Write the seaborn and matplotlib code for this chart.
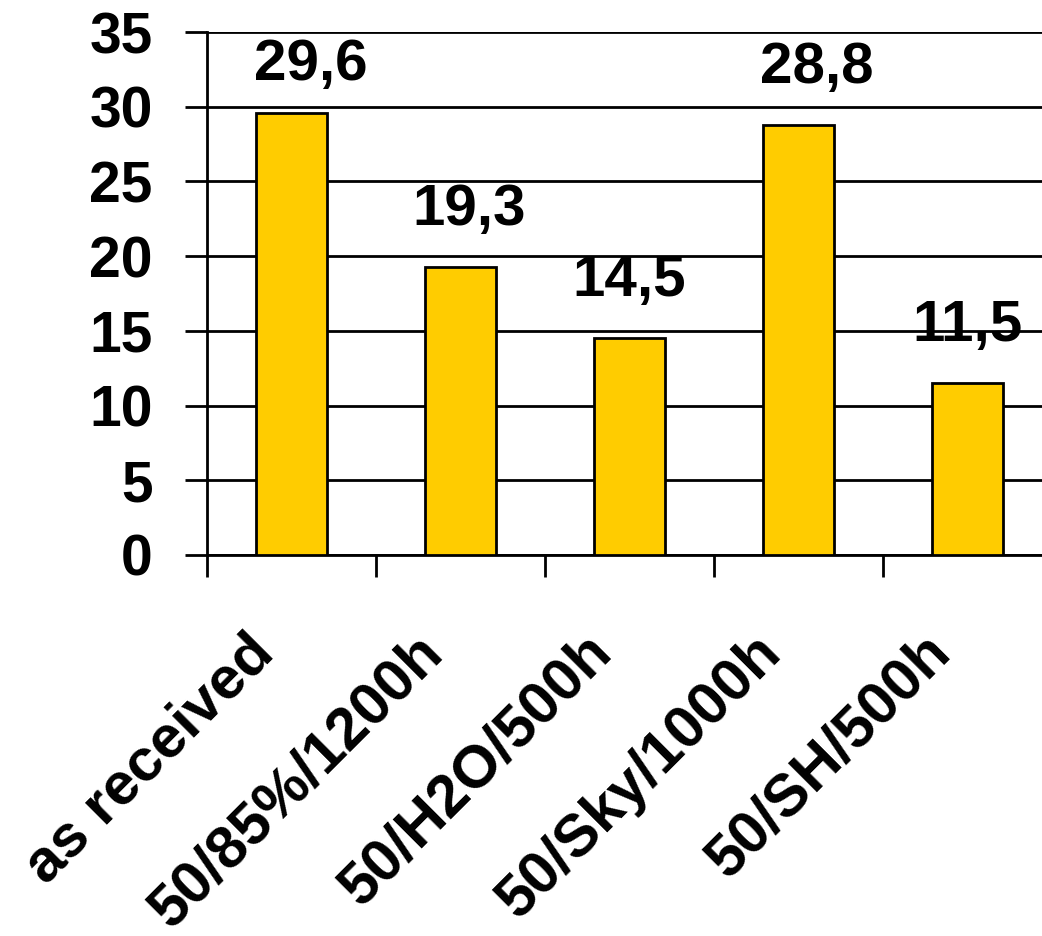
import matplotlib
matplotlib.use("Agg")
import matplotlib.pyplot as plt
import matplotlib.transforms as mtransforms
import seaborn as sns

# Data
categories = ["as received", "50/85%/1200h", "50/H2O/500h", "50/Sky/1000h", "50/SH/500h"]
values = [29.6, 19.3, 14.5, 28.8, 11.5]
value_labels = ["29,6", "19,3", "14,5", "28,8", "11,5"]
y_ticks = [0, 5, 10, 15, 20, 25, 30, 35]

# Small horizontal nudges (points) for the value labels
label_dx = [14, 6, 0, 13, 0]

sns.set_style("white")
plt.rcParams["font.family"] = ["Liberation Sans", "DejaVu Sans"]
plt.rcParams["font.weight"] = "bold"
plt.rcParams["text.color"] = "black"
plt.rcParams["xtick.color"] = "black"
plt.rcParams["ytick.color"] = "black"

fig = plt.figure(figsize=(10.42, 9.36), dpi=100)
ax = fig.add_axes([207 / 1042, 1 - 555 / 936, 845 / 1042, 523 / 936])

sns.barplot(x=categories, y=values, color="#FFCC00", saturation=1,
            edgecolor="black", linewidth=2, width=0.42, ax=ax, zorder=3)

ax.set_xlim(-0.5, len(categories) - 0.5)
ax.set_ylim(0, 35)
ax.set_yticks(y_ticks)
ax.set_yticklabels([str(t) for t in y_ticks], fontsize=41, fontweight="bold",
                   color="black")

ax.yaxis.grid(True, color="black", linewidth=2)
ax.set_axisbelow(True)

for side in ("top", "right"):
    ax.spines[side].set_visible(False)
for side in ("left", "bottom"):
    ax.spines[side].set_visible(True)
    ax.spines[side].set_color("black")
    ax.spines[side].set_linewidth(2)

ax.tick_params(axis="y", which="major", direction="out", length=16, width=2,
               color="black", labelcolor="black", pad=23, left=True)

# category separators as minor ticks, labels on the major ticks
ax.set_xticks([i - 0.5 for i in range(len(categories) + 1)], minor=True)
ax.tick_params(axis="x", which="minor", direction="out", length=16, width=2,
               color="black", bottom=True)
ax.tick_params(axis="x", which="major", length=0, pad=64, labelcolor="black")
ax.set_xticks(range(len(categories)))
ax.set_xticklabels(categories, fontsize=43, fontweight="bold", rotation=45,
                   ha="right", va="center", rotation_mode="anchor",
                   color="black")
shift = mtransforms.ScaledTranslation(-19 / 72, 0, fig.dpi_scale_trans)
for lbl in ax.get_xticklabels():
    lbl.set_transform(lbl.get_transform() + shift)
ax.set_xlabel("")
ax.set_ylabel("")

for i, (v, lab) in enumerate(zip(values, value_labels)):
    ax.annotate(lab, xy=(i, min(v + 2.8, 31.8)), xytext=(label_dx[i], 0),
                textcoords="offset points", ha="center", va="baseline",
                fontsize=42, fontweight="bold", color="black", zorder=4)

fig.savefig("out.png", dpi=100)
